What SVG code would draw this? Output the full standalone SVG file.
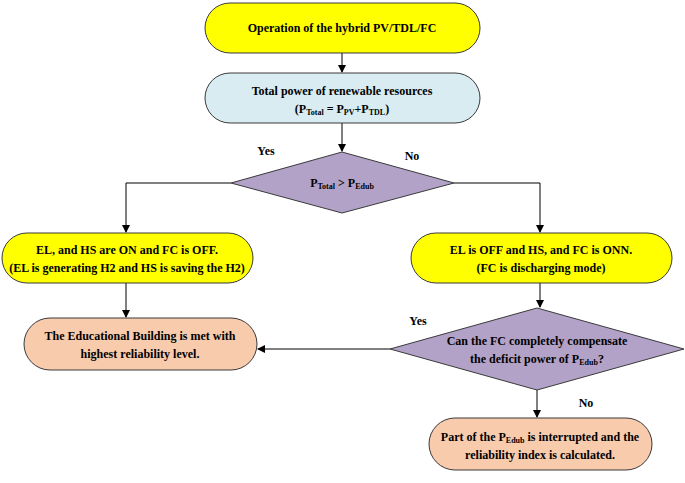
<svg xmlns="http://www.w3.org/2000/svg" width="685" height="483" viewBox="0 0 685 483">
<defs>
<marker id="ah" markerWidth="8" markerHeight="8" refX="7" refY="4" orient="auto" markerUnits="userSpaceOnUse"><path d="M0,0 L8,4 L0,8 Z" fill="#000"/></marker>
<style>
.n{stroke:#3a3a3a;stroke-width:1}
.y{fill:#ffff00}.b{fill:#d8ecf1}.p{fill:#b3a2c7}.o{fill:#f8cbad}
text{font-size:12px;font-weight:bold;fill:#000;text-anchor:middle}
.c{fill:none;stroke:#000;stroke-width:1;marker-end:url(#ah)}
</style>
</defs>
<rect width="685" height="483" fill="#fff"/>
<g font-family="'Liberation Serif', 'Times New Roman', serif">
<g id="connectors">
<path class="c" d="M342,53 V72"/>
<path class="c" d="M342,123 V151"/>
<path class="c" d="M231,183 H126 V232"/>
<path class="c" d="M454,183 H540 V232"/>
<path class="c" d="M126,283 V317"/>
<path class="c" d="M540,283 V307"/>
<path class="c" d="M390,349 H258"/>
<path class="c" d="M537,390 V417"/>
<text x="266" y="155">Yes</text>
<text x="412" y="160">No</text>
<text x="418" y="325">Yes</text>
<text x="586" y="407">No</text>
</g>
<g id="start"><rect class="n y" x="205" y="3" width="275" height="50" rx="25"/><text x="342" y="32">Operation of the hybrid PV/TDL/FC</text></g>
<g id="total"><rect class="n b" x="205" y="73" width="275" height="50" rx="25"/><text x="342" y="95">Total power of renewable resources</text><text x="342" y="113">(P<tspan font-size="8" dy="2">Total</tspan><tspan dy="-2"> = P</tspan><tspan font-size="8" dy="2">PV</tspan><tspan dy="-2">+P</tspan><tspan font-size="8" dy="2">TDL</tspan><tspan dy="-2">)</tspan></text></g>
<g id="d1"><polygon class="n p" points="342,152 454,183 342,213 231,183"/><text x="342" y="187">P<tspan font-size="8" dy="2">Total</tspan><tspan dy="-2"> &gt; P</tspan><tspan font-size="8" dy="2">Edub</tspan></text></g>
<g id="left"><rect class="n y" x="2" y="233" width="251" height="50" rx="25"/><text x="127" y="254">EL, and HS are ON and FC is OFF.</text><text x="127" y="272">(EL is generating H2 and HS is saving the H2)</text></g>
<g id="right"><rect class="n y" x="411" y="233" width="261" height="50" rx="25"/><text x="541" y="254">EL is OFF and HS, and FC is ONN.</text><text x="541" y="272">(FC is discharging mode)</text></g>
<g id="met"><rect class="n o" x="24" y="318" width="233" height="52" rx="26"/><text x="140" y="340">The Educational Building is met with</text><text x="140" y="358">highest reliability level.</text></g>
<g id="d2"><polygon class="n p" points="537,308 684,349 537,390 390,349"/><text x="537" y="345">Can the FC completely compensate</text><text x="537" y="363">the deficit power of P<tspan font-size="8" dy="2">Edub</tspan><tspan dy="-2">?</tspan></text></g>
<g id="part"><rect class="n o" x="429" y="418" width="223" height="52" rx="26"/><text x="540" y="441">Part of the P<tspan font-size="8" dy="2">Edub</tspan><tspan dy="-2"> is interrupted and the</tspan></text><text x="540" y="459">reliability index is calculated.</text></g>
</g>
</svg>
